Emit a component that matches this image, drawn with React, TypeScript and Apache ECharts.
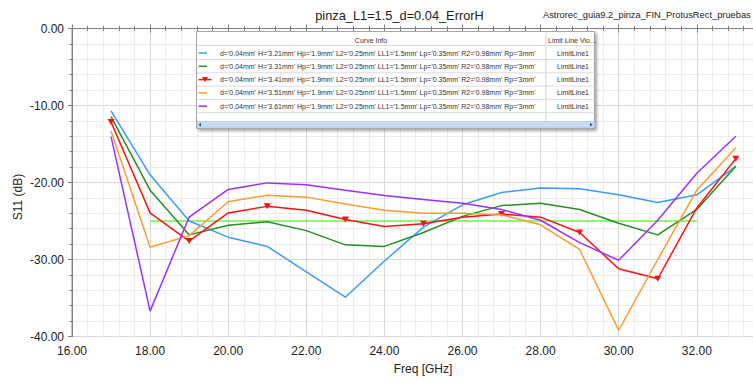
import React, { useEffect, useRef } from "react";
import * as echarts from "echarts";

const freq = [17, 18, 19, 20, 21, 22, 23, 24, 25, 26, 27, 28, 29, 30, 31, 32, 33];
const sBlue = [-10.7, -19.0, -25.0, -27.1, -28.3, -31.6, -34.9, -30.2, -25.8, -22.9, -21.3, -20.7, -20.8, -21.6, -22.6, -21.6, -17.9];
const sGreen = [-11.45, -21.0, -26.8, -25.55, -25.1, -26.25, -28.1, -28.3, -26.5, -24.4, -23.0, -22.7, -23.5, -25.3, -26.8, -23.5, -17.9];
const sRed = [-12.15, -23.95, -27.6, -23.95, -23.1, -23.6, -24.8, -25.7, -25.35, -24.5, -24.1, -24.5, -26.5, -31.2, -32.5, -23.3, -16.9];
const sOrange = [-13.3, -28.4, -26.9, -22.5, -21.65, -21.9, -22.8, -23.6, -24.0, -24.0, -24.2, -25.5, -28.7, -39.2, -30.0, -21.0, -15.5];
const sPurple = [-14.05, -36.7, -24.5, -20.9, -20.05, -20.3, -21.0, -21.7, -22.2, -22.7, -23.5, -24.9, -27.8, -30.1, -24.9, -18.8, -14.0];
const limitFreq = [18, 32];
const limitVal = [-25, -25];

const hValues = ["3.21", "3.31", "3.41", "3.51", "3.61"];
const curveNames = hValues.map(
  (h) => `d='0.04mm' H='${h}mm' Hp='1.9mm' L2='0.25mm' LL1='1.5mm' Lp='0.35mm' R2='0.98mm' Rp='3mm'`
);
const curveColors = ["#3a9bff", "#23901f", "#ff1010", "#ff9a2e", "#9b30ff"];
const curveValues = [sBlue, sGreen, sRed, sOrange, sPurple];

const titleText = "pinza_L1=1.5_d=0.04_ErrorH";
const projectText = "Astrorec_guia9.2_pinza_FIN_ProtusRect_pruebas";
const xName = "Freq [GHz]";
const yName = "S11 (dB)";

const FONT = "'Liberation Sans', Arial, sans-serif";

export default function App() {
  const ref = useRef<HTMLDivElement>(null);
  useEffect(() => {
    if (!ref.current) return;
    const chart = echarts.init(ref.current, undefined, { renderer: "svg" });

    const series: any[] = curveValues.map((vals, i) => {
      const isRed = i === 2;
      return {
        name: curveNames[i],
        type: "line",
        data: freq.map((f, k) =>
          isRed
            ? { value: [f, vals[k]], symbol: f % 2 === 1 ? "triangle" : "none" }
            : [f, vals[k]]
        ),
        symbol: isRed ? "triangle" : "none",
        symbolRotate: 180,
        symbolSize: isRed ? [7, 6] : 0,
        showSymbol: isRed,
        itemStyle: { color: curveColors[i] },
        lineStyle: { color: curveColors[i], width: 1.5 },
        z: 3 + i,
      };
    });
    series.push({
      name: "LimitLine1",
      type: "line",
      data: limitFreq.map((f, k) => [f, limitVal[k]]),
      symbol: "none",
      lineStyle: { color: "#6cf542", width: 1.5 },
      itemStyle: { color: "#6cf542" },
      z: 2,
    });

    const rowY = [53, 66.3, 79.6, 92.9, 106.2];
    const graphics: any[] = [
      {
        type: "rect",
        shape: { x: 196.5, y: 31.5, width: 398, height: 97 },
        style: { fill: "#ffffff", stroke: "#a6a6a6", lineWidth: 1, shadowBlur: 3, shadowOffsetX: 2, shadowOffsetY: 2, shadowColor: "rgba(0,0,0,0.35)" },
        z: 10,
      },
      {
        type: "line",
        shape: { x1: 546, y1: 31.5, x2: 546, y2: 121.5 },
        style: { stroke: "#d4d4d4", lineWidth: 1 },
        z: 11,
      },
    ];
    [45.5, 59.5, 72.8, 86.1, 99.4, 112.7].forEach((y) =>
      graphics.push({
        type: "line",
        shape: { x1: 197, y1: y, x2: 594.5, y2: y },
        style: { stroke: "#dcdcdc", lineWidth: 1 },
        z: 11,
      })
    );
    graphics.push(
      {
        type: "text",
        x: 371,
        y: 40,
        style: { text: "Curve Info", font: `7px ${FONT}`, fill: "#333", textAlign: "center", textVerticalAlign: "middle" },
        z: 12,
      },
      {
        type: "text",
        x: 548,
        y: 40,
        style: { text: "Limit Line Vio…", font: `7px ${FONT}`, fill: "#333", textAlign: "left", textVerticalAlign: "middle" },
        z: 12,
      },
      {
        type: "rect",
        shape: { x: 197, y: 121.5, width: 397.5, height: 6.5 },
        style: { fill: "#c9dbf2", stroke: "#9fb8da", lineWidth: 0.5 },
        z: 11,
      },
      {
        type: "polygon",
        shape: { points: [[198.5, 124.7], [201, 122.8], [201, 126.6]] },
        style: { fill: "#1f4fa8" },
        z: 12,
      },
      {
        type: "polygon",
        shape: { points: [[592.5, 124.7], [590, 122.8], [590, 126.6]] },
        style: { fill: "#1f4fa8" },
        z: 12,
      }
    );
    rowY.forEach((y, i) => {
      const isRed = i === 2;
      graphics.push(
        {
          type: "line",
          shape: { x1: 198.5, y1: y, x2: isRed ? 211.5 : 207, y2: y },
          style: { stroke: curveColors[i], lineWidth: 1.5 },
          z: 12,
        },
        {
          type: "text",
          x: 220,
          y: y,
          style: { text: curveNames[i], font: `7px ${FONT}`, fill: "#333", textAlign: "left", textVerticalAlign: "middle" },
          z: 12,
        },
        {
          type: "text",
          x: 573,
          y: y,
          style: { text: "LimitLine1", font: `7px ${FONT}`, fill: "#333", textAlign: "center", textVerticalAlign: "middle" },
          z: 12,
        }
      );
      if (isRed) {
        graphics.push({
          type: "polygon",
          shape: { points: [[202, y - 2.5], [208, y - 2.5], [205, y + 2.5]] },
          style: { fill: curveColors[i] },
          z: 13,
        });
      }
    });
    graphics.push(
      {
        type: "text",
        x: 399.5,
        y: 15,
        style: { text: titleText, font: `12.8px ${FONT}`, fill: "#222", textAlign: "center", textVerticalAlign: "middle" },
        z: 12,
      },
      {
        type: "text",
        x: 543,
        y: 15,
        style: { text: projectText, font: `9.3px ${FONT}`, fill: "#222", textAlign: "left", textVerticalAlign: "middle" },
        z: 12,
      },
      {
        type: "text",
        x: 423,
        y: 369,
        style: { text: xName, font: `12px ${FONT}`, fill: "#222", textAlign: "center", textVerticalAlign: "middle" },
        z: 12,
      },
      {
        type: "text",
        x: 18,
        y: 197,
        rotation: Math.PI / 2,
        style: { text: yName, font: `12px ${FONT}`, fill: "#222", textAlign: "center", textVerticalAlign: "middle" },
        z: 12,
      }
    );

    const gridLeft = 72;
    const gridTop = 28.5;
    const pxPerGHz = 39.05;

    chart.setOption({
      animation: false,
      backgroundColor: "#ffffff",
      grid: {
        left: gridLeft,
        top: gridTop,
        width: pxPerGHz * 18,
        height: 308,
        show: true,
        borderColor: "#8a8a8a",
        borderWidth: 1,
        containLabel: false,
        outerBoundsMode: "none",
      },
      xAxis: [
        {
          type: "value",
          min: 16,
          max: 34,
          interval: 2,
          axisLine: { show: true, lineStyle: { color: "#7f7f7f" } },
          axisTick: { show: true, inside: true, length: 4, lineStyle: { color: "#7f7f7f" } },
          minorTick: { show: true, splitNumber: 5, length: 2.5, lineStyle: { color: "#7f7f7f" } },
          axisLabel: {
            formatter: (v: number) => v.toFixed(2),
            fontSize: 12,
            fontFamily: FONT,
            color: "#222",
            margin: 8,
            showMaxLabel: false,
          },
          splitLine: { show: true, lineStyle: { color: "#d8d8d8", width: 1 } },
          minorSplitLine: { show: true, lineStyle: { color: "#ececec", width: 1 } },
        },
        {
          type: "value",
          position: "top",
          min: 16,
          max: 34,
          interval: 2,
          axisLine: { show: true, lineStyle: { color: "#7f7f7f" } },
          axisTick: { show: true, inside: true, length: 4, lineStyle: { color: "#7f7f7f" } },
          minorTick: { show: true, splitNumber: 5, length: 2.5, lineStyle: { color: "#7f7f7f" } },
          axisLabel: { show: false },
          splitLine: { show: false },
        },
      ],
      yAxis: {
        type: "value",
        min: -40,
        max: 0,
        interval: 10,
        axisLine: { show: true, lineStyle: { color: "#7f7f7f" } },
        axisTick: { show: true, inside: false, length: 4, lineStyle: { color: "#7f7f7f" } },
        minorTick: { show: true, splitNumber: 5, length: 2.5, lineStyle: { color: "#7f7f7f" } },
        axisLabel: {
          formatter: (v: number) => v.toFixed(2),
          fontSize: 12,
          fontFamily: FONT,
          color: "#222",
          margin: 8,
        },
        splitLine: { show: true, lineStyle: { color: "#d8d8d8", width: 1 } },
        minorSplitLine: { show: true, lineStyle: { color: "#ececec", width: 1 } },
      },
      graphic: graphics,
      series,
    });

    return () => chart.dispose();
  }, []);

  return (
    <div
      ref={ref}
      style={{ position: "absolute", left: 0, top: 0, width: 753, height: 381, background: "#fff" }}
    />
  );
}
